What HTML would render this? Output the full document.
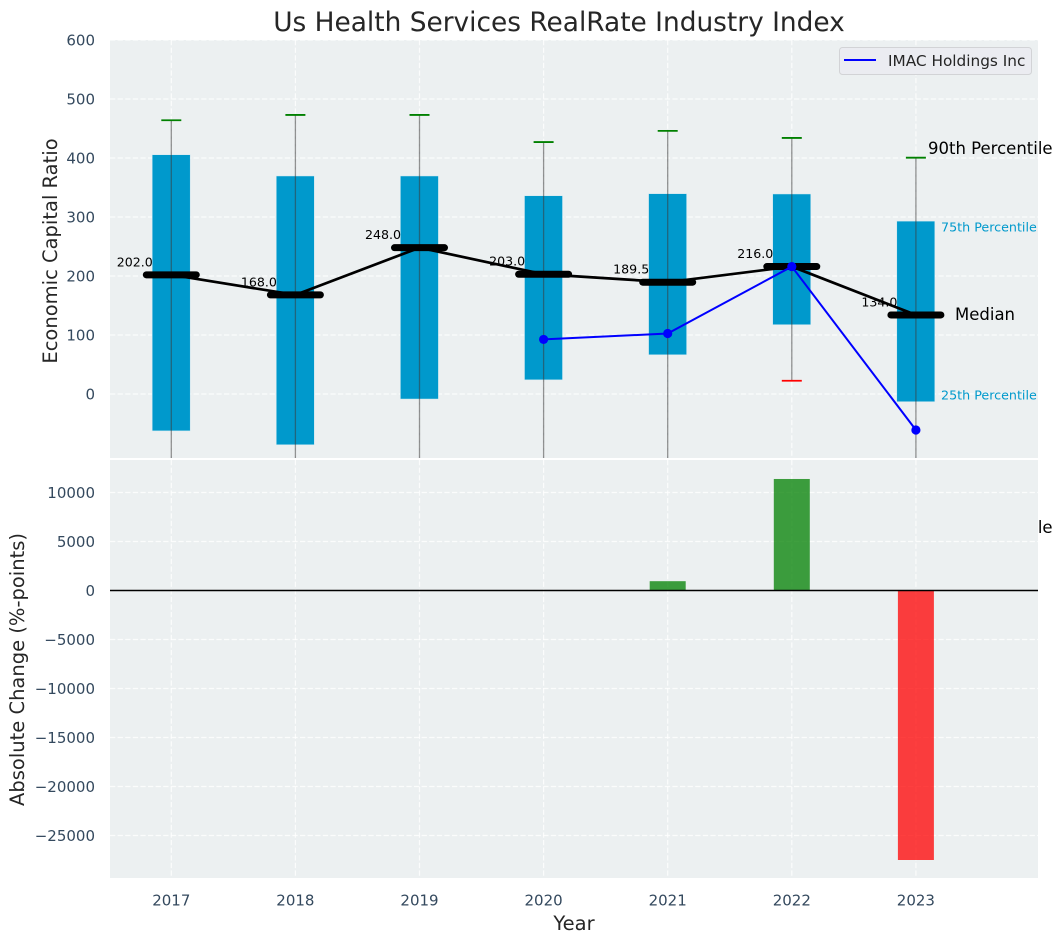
<!DOCTYPE html>
<html>
<head>
<meta charset="utf-8">
<title>Us Health Services RealRate Industry Index</title>
<style>
html,body{margin:0;padding:0;background:#fff;}
svg{display:block;font-family:"DejaVu Sans","Liberation Sans",sans-serif;}
</style>
</head>
<body>
<svg id="chart" xmlns="http://www.w3.org/2000/svg" width="1063" height="942" viewBox="0 0 1063 942">
  <defs>
    <clipPath id="top-clip"><rect x="110" y="40" width="928" height="418"/></clipPath>
    <clipPath id="bot-clip"><rect x="110" y="460" width="928" height="418"/></clipPath>
  </defs>
  <text x="559" y="31" font-size="26.4" fill="#262626" text-anchor="middle">Us Health Services RealRate Industry Index</text>
  <rect x="110" y="40" width="928" height="418" fill="#ecf0f1"/>
  <g id="top-grid" clip-path="url(#top-clip)"></g>
  <g id="top-marks"></g>
  <text x="928" y="533" font-size="16.5" fill="#000">10th Percentile</text>
  <rect x="110" y="460" width="928" height="418" fill="#ecf0f1"/>
  <g id="bot-grid" clip-path="url(#bot-clip)"></g>
  <g id="bot-marks" clip-path="url(#bot-clip)"></g>
  <line x1="110" x2="1038" y1="590.5" y2="590.5" stroke="#000" stroke-width="1.4"/>
  <g id="ticks"></g>
  <text transform="translate(57,251) rotate(-90)" font-size="19.5" fill="#262626" text-anchor="middle">Economic Capital Ratio</text>
  <text transform="translate(24,669.5) rotate(-90)" font-size="19.5" fill="#262626" text-anchor="middle">Absolute Change (%-points)</text>
  <text x="574" y="930" font-size="19.5" fill="#262626" text-anchor="middle">Year</text>
  <text x="928" y="154" font-size="16.5" fill="#000">90th Percentile</text>
  <text x="941" y="231.5" font-size="12.7" fill="#0099cc">75th Percentile</text>
  <text x="955" y="320" font-size="16.5" fill="#000">Median</text>
  <text x="941" y="399.5" font-size="12.7" fill="#0099cc">25th Percentile</text>
  <g>
    <rect x="839.5" y="47.5" width="192" height="27" rx="3" fill="#ebecf1" stroke="#d2d3d6" stroke-width="1"/>
    <line x1="844" x2="876" y1="60" y2="60" stroke="#0000ff" stroke-width="2"/>
    <text x="888" y="66" font-size="15.3" fill="#262626">IMAC Holdings Inc</text>
  </g>
</svg>
<script>
const years = [2017, 2018, 2019, 2020, 2021, 2022, 2023];
const p90 = [464, 473, 473, 427, 446, 434, 400.5];
const p75 = [405.5, 369.5, 369.5, 336, 339.5, 339, 293];
const medians = [202, 168, 248, 203, 189.5, 216, 134];
const p25 = [-62.5, -86, -8.5, 24, 66.5, 117.5, -13];
const p10 = [-150, -180, -170, -160, -150, 22.5, -243];
const company = [null, null, null, 92.5, 102.5, 216, -61];
const changes = [0, 0, 0, 0, 950, 11380, -27500];
const topTicks = [0, 100, 200, 300, 400, 500, 600];
const bottomTicks = [-25000, -20000, -15000, -10000, -5000, 0, 5000, 10000];

const NS = 'http://www.w3.org/2000/svg';
function xAt(y) { return 171.3 + (y - 2017) * 124.1; }
function yTop(v) { return 394 - v * 0.59; }
function yBot(v) { return 590.5 - v * 0.0098; }
function make(tag, parent, attrs) {
  const n = document.createElementNS(NS, tag);
  for (const k in attrs) n.setAttribute(k, attrs[k]);
  parent.appendChild(n);
  return n;
}
function fmt(v) { return String(v).replace('-', '\u2212'); }

const topGrid = document.getElementById('top-grid');
const botGrid = document.getElementById('bot-grid');
const tickLayer = document.getElementById('ticks');
const gridStyle = { stroke: '#ffffff', 'stroke-width': 1.2, 'stroke-opacity': 0.8, 'stroke-dasharray': '5.3 2.3' };

topTicks.forEach(function (t) {
  const g = make('line', topGrid, Object.assign({ x1: 110, x2: 1038, y1: yTop(t), y2: yTop(t) }, gridStyle));
  
  
  const lab = make('text', tickLayer, { x: 95, y: yTop(t) + 5.4, 'font-size': 15, fill: '#34495e', 'text-anchor': 'end' });
  lab.textContent = fmt(t);
  
  
});
bottomTicks.forEach(function (t) {
  const g = make('line', botGrid, Object.assign({ x1: 110, x2: 1038, y1: yBot(t), y2: yBot(t) }, gridStyle));
  
  
  const lab = make('text', tickLayer, { x: 95, y: yBot(t) + 5.4, 'font-size': 15, fill: '#34495e', 'text-anchor': 'end' });
  lab.textContent = fmt(t);
  
  
});
years.forEach(function (yr) {
  const a = make('line', topGrid, Object.assign({ x1: xAt(yr), x2: xAt(yr), y1: 40, y2: 458 }, gridStyle));
  
  
  const b = make('line', botGrid, Object.assign({ x1: xAt(yr), x2: xAt(yr), y1: 460, y2: 878 }, gridStyle));
  
  
  const lab = make('text', tickLayer, { x: xAt(yr), y: 905.5, 'font-size': 15, fill: '#34495e', 'text-anchor': 'middle' });
  lab.textContent = yr;
  
  
});

const topMarks = document.getElementById('top-marks');
const clipped = make('g', topMarks, { 'clip-path': 'url(#top-clip)' });



years.forEach(function (yr, i) {
  const box = make('rect', clipped, { x: xAt(yr) - 19.1, y: yTop(p75[i]), width: 38, height: yTop(p25[i]) - yTop(p75[i]), fill: '#0099cc', stroke: '#cfe8f1', 'stroke-width': 0.5 });
  
  
  const w = make('line', clipped, { x1: xAt(yr), x2: xAt(yr), y1: yTop(p90[i]), y2: yTop(p10[i]), stroke: '#3a3a3a', 'stroke-opacity': 0.55, 'stroke-width': 1.3 });
  
  
  const c1 = make('line', clipped, { x1: xAt(yr) - 10, x2: xAt(yr) + 10, y1: yTop(p90[i]), y2: yTop(p90[i]), stroke: '#008000', 'stroke-width': 1.8 });
  
  
  const c2 = make('line', clipped, { x1: xAt(yr) - 10, x2: xAt(yr) + 10, y1: yTop(p10[i]), y2: yTop(p10[i]), stroke: '#ff0000', 'stroke-width': 1.8 });
  
  
});

years.forEach(function (yr, i) {
  const lab = make('text', topMarks, { x: xAt(yr) - 36.5, y: yTop(medians[i]) - 8.5, 'font-size': 12.6, fill: '#000', 'text-anchor': 'middle' });
  lab.textContent = medians[i].toFixed(1);
  
  
});

const medianPoints = years.map(function (yr, i) { return xAt(yr) + ',' + yTop(medians[i]); }).join(' ');
const medianLine = make('polyline', topMarks, { points: medianPoints, fill: 'none', stroke: '#000', 'stroke-width': 2.7 });



years.forEach(function (yr, i) {
  const m = make('line', topMarks, { x1: xAt(yr) - 25, x2: xAt(yr) + 25, y1: yTop(medians[i]), y2: yTop(medians[i]), stroke: '#000', 'stroke-width': 7, 'stroke-linecap': 'round' });
  
  
});

const companyPoints = years.map(function (yr, i) {
  return company[i] === null ? null : xAt(yr) + ',' + yTop(company[i]);
}).filter(Boolean).join(' ');
const companyLine = make('polyline', topMarks, { points: companyPoints, fill: 'none', stroke: '#0000ff', 'stroke-width': 2 });


years.forEach(function (yr, i) {
  if (company[i] === null) return;
  const p = make('circle', topMarks, { cx: xAt(yr), cy: yTop(company[i]), r: 4.6, fill: '#0000ff' });
  
  
});

const botMarks = document.getElementById('bot-marks');
years.forEach(function (yr, i) {
  if (changes[i] === 0) return;
  const y0 = yBot(Math.max(changes[i], 0));
  const y1 = yBot(Math.min(changes[i], 0));
  const bar = make('rect', botMarks, { x: xAt(yr) - 18, y: y0, width: 36, height: y1 - y0, fill: changes[i] > 0 ? '#008000' : '#ff0000', 'fill-opacity': 0.75 });
  
  
});
</script>
</body>
</html>
